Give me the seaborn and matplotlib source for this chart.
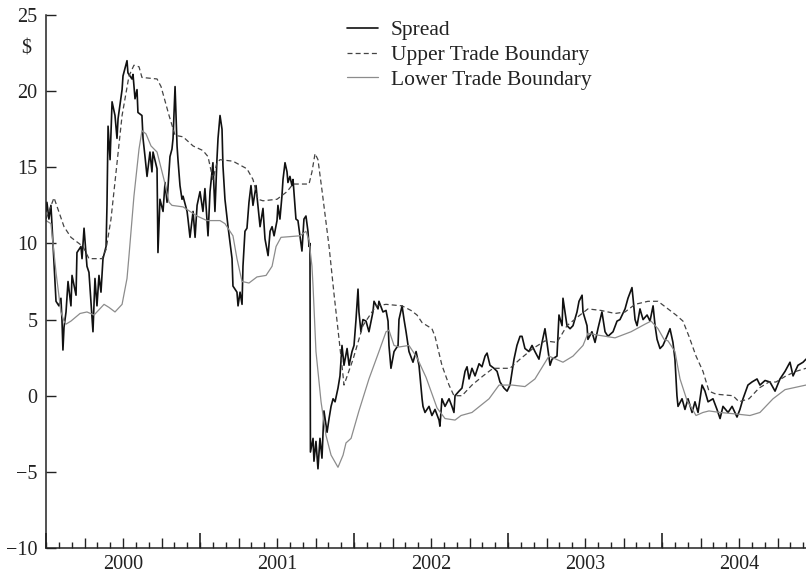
import numpy as np
import pandas as pd
import matplotlib
matplotlib.use("Agg")
import matplotlib.pyplot as plt
import seaborn as sns

# time is in years since 1 Jan 2000, values in $
spread_t = [0.000, 0.006, 0.019, 0.032, 0.039, 0.065, 0.084, 0.097, 0.104, 0.110,
            0.117, 0.130, 0.143, 0.162, 0.169, 0.195, 0.201, 0.227, 0.234, 0.247,
            0.266, 0.279, 0.292, 0.305, 0.318, 0.331, 0.344, 0.357, 0.370, 0.390,
            0.396, 0.403, 0.416, 0.429, 0.448, 0.461, 0.468, 0.494, 0.500, 0.526,
            0.532, 0.558, 0.565, 0.578, 0.591, 0.597, 0.623, 0.630, 0.643, 0.656,
            0.675, 0.688, 0.695, 0.721, 0.727, 0.740, 0.760, 0.773, 0.786, 0.805,
            0.818, 0.825, 0.838, 0.851, 0.857, 0.870, 0.883, 0.890, 0.916, 0.922,
            0.935, 0.955, 0.968, 0.981, 1.000, 1.019, 1.032, 1.052, 1.065, 1.084,
            1.097, 1.110, 1.117, 1.130, 1.143, 1.149, 1.162, 1.182, 1.208, 1.214,
            1.240, 1.247, 1.260, 1.273, 1.279, 1.292, 1.305, 1.318, 1.331, 1.344,
            1.364, 1.370, 1.390, 1.409, 1.422, 1.442, 1.455, 1.468, 1.481, 1.500,
            1.506, 1.519, 1.532, 1.539, 1.552, 1.565, 1.571, 1.584, 1.597, 1.604,
            1.623, 1.636, 1.649, 1.662, 1.675, 1.688, 1.701, 1.708, 1.714, 1.717,
            1.734, 1.740, 1.753, 1.766, 1.779, 1.792, 1.805, 1.825, 1.838, 1.851,
            1.864, 1.877, 1.896, 1.909, 1.922, 1.935, 1.955, 1.968, 1.987, 2.000,
            2.013, 2.026, 2.032, 2.045, 2.058, 2.078, 2.097, 2.123, 2.130, 2.156,
            2.162, 2.188, 2.208, 2.221, 2.227, 2.240, 2.260, 2.286, 2.292, 2.312,
            2.325, 2.338, 2.357, 2.383, 2.403, 2.422, 2.442, 2.448, 2.461, 2.487,
            2.506, 2.526, 2.552, 2.558, 2.571, 2.591, 2.617, 2.636, 2.649, 2.656,
            2.682, 2.701, 2.721, 2.734, 2.747, 2.766, 2.786, 2.812, 2.831, 2.851,
            2.864, 2.883, 2.909, 2.929, 2.948, 2.974, 2.994, 3.013, 3.039, 3.058,
            3.078, 3.091, 3.110, 3.136, 3.156, 3.175, 3.201, 3.221, 3.240, 3.253,
            3.273, 3.286, 3.318, 3.331, 3.351, 3.357, 3.383, 3.403, 3.422, 3.448,
            3.461, 3.481, 3.487, 3.513, 3.519, 3.545, 3.565, 3.584, 3.610, 3.630,
            3.649, 3.682, 3.708, 3.727, 3.760, 3.779, 3.805, 3.812, 3.825, 3.838,
            3.857, 3.877, 3.903, 3.922, 3.942, 3.955, 3.968, 3.987, 4.006, 4.032,
            4.052, 4.071, 4.084, 4.097, 4.104, 4.130, 4.149, 4.169, 4.195, 4.214,
            4.234, 4.260, 4.279, 4.299, 4.331, 4.357, 4.377, 4.396, 4.429, 4.455,
            4.487, 4.506, 4.526, 4.558, 4.584, 4.617, 4.636, 4.669, 4.701, 4.734,
            4.766, 4.799, 4.831, 4.851, 4.883, 4.916, 4.935]
spread_v = [12.1, 12.7, 11.6, 12.5, 11.2, 6.2, 5.9, 6.4, 4.9, 3.0,
            4.5, 5.5, 7.5, 5.9, 7.9, 6.6, 9.4, 9.8, 9.0, 11.0,
            8.5, 8.1, 6.2, 4.2, 7.7, 5.9, 7.9, 6.8, 9.0, 9.8,
            12.5, 17.7, 15.5, 19.3, 18.4, 16.9, 18.2, 20.1, 21.0, 22.0,
            21.2, 20.8, 21.1, 19.5, 20.1, 18.6, 18.4, 16.9, 15.7, 14.4,
            16.0, 14.7, 16.0, 14.9, 9.4, 12.9, 12.1, 14.0, 12.7, 15.7,
            16.2, 16.9, 20.3, 16.4, 15.5, 13.8, 12.9, 13.1, 12.1, 11.6,
            10.4, 12.1, 10.4, 12.5, 13.4, 12.1, 13.6, 10.5, 13.4, 15.3,
            12.1, 15.5, 16.9, 18.4, 17.5, 15.1, 12.9, 11.1, 9.0, 7.2,
            6.8, 5.9, 6.8, 6.0, 8.5, 10.8, 11.0, 12.7, 13.8, 12.5,
            13.8, 13.1, 11.1, 12.3, 10.3, 9.2, 10.8, 11.1, 10.5, 11.5,
            12.5, 11.6, 13.1, 14.2, 15.3, 14.7, 14.0, 14.4, 13.8, 14.2,
            11.6, 11.5, 10.5, 9.5, 11.6, 11.8, 10.8, 9.8, 10.0, -3.7,
            -2.8, -4.3, -3.0, -4.8, -2.8, -4.1, -1.0, -2.4, -1.5, -0.7,
            -0.2, -0.4, 0.5, 1.3, 3.3, 2.0, 3.1, 2.0, 2.9, 3.3,
            5.0, 7.0, 5.5, 4.2, 5.0, 4.9, 4.2, 5.5, 6.2, 5.7,
            6.2, 5.5, 5.6, 4.9, 3.3, 1.8, 2.9, 3.3, 5.0, 5.9,
            5.0, 4.2, 2.9, 2.2, 2.9, 2.0, -0.2, -0.7, -1.1, -0.7,
            -1.3, -0.9, -1.6, -2.0, -0.2, -0.7, -0.2, -0.7, -1.1, 0.0,
            0.3, 0.5, 1.6, 1.9, 1.1, 1.8, 1.3, 2.1, 1.9, 2.6,
            2.8, 2.0, 1.8, 1.6, 0.9, 0.5, 0.3, 0.7, 2.4, 3.3,
            3.9, 3.9, 3.1, 2.9, 3.3, 2.9, 2.4, 3.5, 4.4, 3.5,
            2.0, 2.4, 2.6, 5.3, 4.6, 6.4, 4.6, 4.4, 4.6, 5.5,
            6.2, 6.6, 5.5, 4.6, 3.7, 4.2, 3.5, 4.4, 5.5, 4.2,
            3.9, 4.2, 4.9, 5.0, 5.7, 6.4, 7.1, 6.4, 5.0, 4.6,
            5.7, 5.0, 5.3, 4.9, 5.9, 4.6, 3.7, 3.1, 3.3, 3.9,
            4.4, 3.5, 2.4, 0.0, -0.7, -0.2, -0.9, -0.2, -1.1, -0.4,
            -1.1, 0.7, 0.3, -0.4, -0.2, -0.9, -1.5, -0.7, -1.1, -0.7,
            -1.4, -0.9, -0.2, 0.7, 0.9, 1.1, 0.7, 1.0, 0.9, 0.3,
            1.1, 1.6, 2.2, 1.3, 2.0, 2.2, 2.4]

upper_t = [0.000, 0.052, 0.117, 0.162, 0.201, 0.240, 0.279, 0.364, 0.390, 0.422,
           0.455, 0.494, 0.539, 0.571, 0.604, 0.623, 0.721, 0.747, 0.799, 0.838,
           0.890, 0.955, 1.019, 1.052, 1.084, 1.110, 1.130, 1.214, 1.305, 1.344,
           1.377, 1.409, 1.500, 1.565, 1.604, 1.708, 1.727, 1.747, 1.766, 1.792,
           1.838, 1.870, 1.903, 1.929, 1.935, 1.994, 2.058, 2.143, 2.208, 2.312,
           2.370, 2.409, 2.442, 2.506, 2.526, 2.571, 2.617, 2.649, 2.701, 2.766,
           2.838, 2.903, 3.013, 3.078, 3.162, 3.240, 3.318, 3.383, 3.468, 3.519,
           3.604, 3.695, 3.760, 3.825, 3.909, 3.974, 4.039, 4.091, 4.136, 4.175,
           4.221, 4.266, 4.305, 4.351, 4.461, 4.500, 4.565, 4.630, 4.695, 4.740,
           4.805, 4.870, 4.935]
upper_v = [11.6, 13.0, 11.1, 10.4, 10.1, 9.8, 9.0, 9.0, 9.6, 11.6,
           14.7, 18.4, 21.0, 21.7, 21.6, 20.9, 20.8, 20.3, 18.4, 17.1,
           17.0, 16.4, 16.1, 15.7, 14.2, 15.3, 15.5, 15.4, 14.9, 14.2,
           12.9, 12.8, 12.9, 13.4, 13.9, 13.9, 14.7, 15.9, 15.5, 13.5,
           9.8, 6.7, 3.7, 1.3, 0.7, 2.4, 4.6, 5.9, 6.0, 5.9,
           5.6, 5.3, 4.8, 4.4, 3.9, 2.0, 0.7, 0.0, 0.0, 0.7,
           1.3, 1.8, 1.8, 2.4, 3.1, 3.6, 3.5, 4.6, 5.3, 5.7,
           5.6, 5.4, 5.5, 6.0, 6.2, 6.2, 5.7, 5.3, 4.9, 3.9,
           2.6, 1.6, 0.3, 0.1, 0.0, -0.4, -0.2, 0.5, 0.9, 0.9,
           1.3, 1.6, 1.8]

lower_t = [0.000, 0.032, 0.065, 0.097, 0.117, 0.130, 0.162, 0.221, 0.266, 0.312,
           0.377, 0.409, 0.448, 0.494, 0.526, 0.539, 0.571, 0.604, 0.623, 0.649,
           0.682, 0.721, 0.766, 0.799, 0.818, 0.890, 0.981, 1.045, 1.130, 1.162,
           1.214, 1.240, 1.273, 1.318, 1.370, 1.429, 1.468, 1.494, 1.526, 1.649,
           1.688, 1.708, 1.727, 1.734, 1.753, 1.786, 1.818, 1.851, 1.896, 1.929,
           1.948, 1.981, 2.032, 2.097, 2.162, 2.208, 2.227, 2.260, 2.292, 2.357,
           2.409, 2.468, 2.539, 2.591, 2.656, 2.695, 2.766, 2.877, 2.942, 3.026,
           3.110, 3.175, 3.266, 3.357, 3.422, 3.487, 3.519, 3.571, 3.695, 3.799,
           3.890, 3.929, 3.974, 4.013, 4.039, 4.084, 4.117, 4.162, 4.221, 4.266,
           4.305, 4.377, 4.481, 4.571, 4.636, 4.721, 4.799, 4.935]
lower_v = [11.5, 11.3, 8.1, 5.5, 4.9, 4.7, 4.9, 5.4, 5.5, 5.3,
           6.0, 5.8, 5.5, 6.0, 7.7, 9.2, 13.1, 16.2, 17.4, 17.2,
           16.4, 16.0, 14.2, 12.7, 12.5, 12.4, 11.8, 11.5, 11.5, 11.3,
           10.5, 9.0, 7.5, 7.4, 7.8, 7.9, 8.5, 9.8, 10.4, 10.5,
           10.8, 10.2, 8.5, 7.2, 2.9, -0.4, -2.6, -3.9, -4.7, -3.9,
           -3.1, -2.8, -1.0, 1.1, 2.9, 4.2, 4.3, 3.3, 3.2, 3.3,
           2.5, 1.2, -0.8, -1.5, -1.6, -1.3, -1.1, -0.2, 0.7, 0.7,
           0.6, 1.1, 2.6, 2.2, 2.6, 3.3, 4.1, 4.0, 3.8, 4.2,
           4.7, 4.9, 4.4, 3.7, 3.6, 2.9, 1.1, -0.3, -1.3, -1.1,
           -1.0, -1.1, -1.2, -1.3, -1.1, -0.2, 0.4, 0.7]

years = [2000, 2001, 2002, 2003, 2004]

spread = pd.DataFrame({"t": 2000 + np.array(spread_t), "v": spread_v})
upper = pd.DataFrame({"t": 2000 + np.array(upper_t), "v": upper_v})
lower = pd.DataFrame({"t": 2000 + np.array(lower_t), "v": lower_v})

sns.set_style("ticks")
plt.rcParams["font.family"] = ["Liberation Serif", "DejaVu Serif"]

fig = plt.figure(figsize=(8.06, 5.77), dpi=100)
ax = fig.add_axes([46 / 806, 29 / 577, 760 / 806, 533 / 577])

sns.lineplot(data=spread, x="t", y="v", ax=ax, color="#111111", lw=1.2,
             label="Spread", sort=False)
sns.lineplot(data=upper, x="t", y="v", ax=ax, color="#444444", lw=0.9,
             ls=(0, (4, 2.5)), label="Upper Trade Boundary", sort=False)
sns.lineplot(data=lower, x="t", y="v", ax=ax, color="#8c8c8c", lw=0.9,
             label="Lower Trade Boundary", sort=False)

ax.set_xlim(2000, 2004.935)
ax.set_ylim(-10, 25)
ax.set_xlabel("")
ax.set_ylabel("")

for s in ["top", "right"]:
    ax.spines[s].set_visible(False)
for s in ["left", "bottom"]:
    ax.spines[s].set_linewidth(1.1)
    ax.spines[s].set_color("#222222")

# y axis
ax.set_yticks(np.arange(-10, 26, 5))
ax.set_yticklabels(["\u221210", "\u22125", "0", "5", "10", "15", "20", "25"])
ax.tick_params(axis="y", direction="in", length=7, width=1, pad=6,
               labelsize=14.5, colors="#222222")
ax.text(-0.02, 22.8, "$", transform=ax.get_yaxis_transform(), ha="right",
        va="center", fontsize=14.5, color="#222222", parse_math=False)

# x axis: quarter ticks, month ticks, year labels mid-year
quarters = [y + q / 4 for y in years for q in (1, 2, 3)]
ax.set_xticks(quarters)
ax.set_xticklabels([str(int(q)) if abs(q % 1 - 0.5) < 1e-6 else "" for q in quarters])
months = [y + m / 12 for y in years for m in range(12) if y + m / 12 <= 2004.935]
ax.set_xticks(months, minor=True)
ax.tick_params(axis="x", which="major", direction="in", length=7, width=1,
               pad=5, labelsize=14.5, colors="#222222")
ax.tick_params(axis="x", which="minor", direction="in", length=4, width=1,
               colors="#222222")

sec = ax.secondary_xaxis("bottom")
sec.set_xticks(years)
sec.tick_params(direction="in", length=11, width=1.2, labelbottom=False,
                colors="#222222")
sec.spines["bottom"].set_visible(False)

leg = ax.legend(loc="upper left", bbox_to_anchor=(0.396, 0.99), frameon=False,
                fontsize=15.5, handlelength=1.45, handletextpad=0.6,
                labelspacing=0.22, borderpad=0, borderaxespad=0)
for t in leg.get_texts():
    t.set_color("#222222")

fig.savefig("out.png", dpi=100)
